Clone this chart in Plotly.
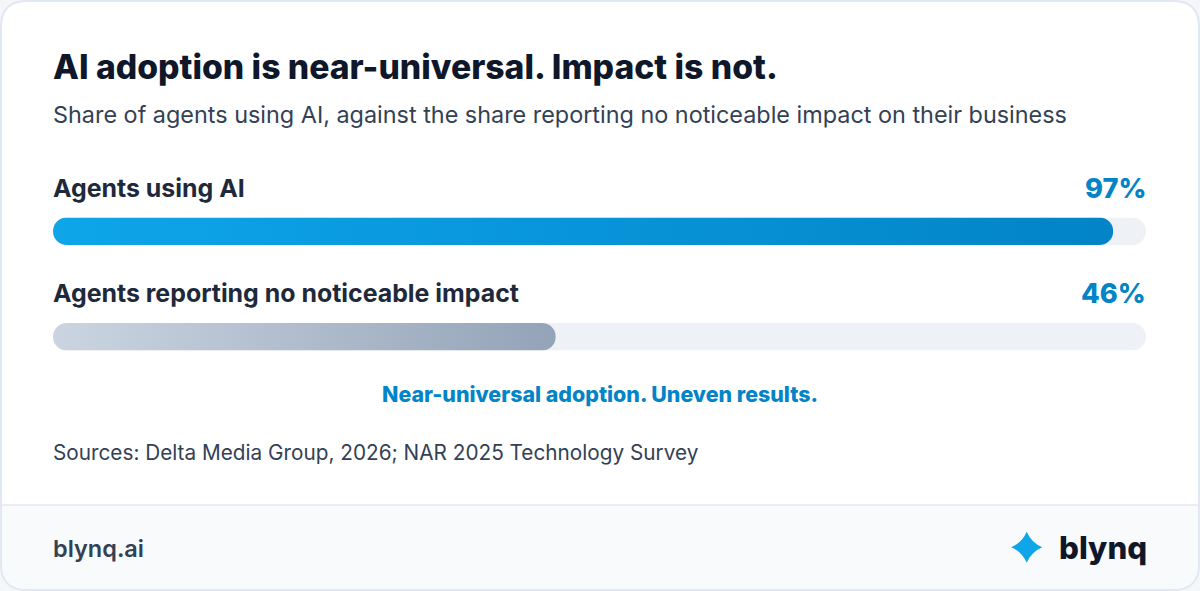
import plotly.graph_objects as go

categories = ["Agents using AI", "Agents reporting no noticeable impact"]
values = [97, 46]
track_values = [100, 100]
title = "AI adoption is near-universal. Impact is not."
subtitle = "Share of agents using AI, against the share reporting no noticeable impact on their business"
callout = "Near-universal adoption. Uneven results."
source = "Sources: Delta Media Group, 2026; NAR 2025 Technology Survey"
footer_left = "blynq.ai"
footer_right = "blynq"

W, H = 1200, 591
FONT = "Inter"


def px(x):
    return x / W


def py(y):
    return 1 - y / H


def text(x, y, s, size, color, weight=400, anchor="left"):
    # annotations carry 2px of padding inside their box
    pad = {"left": -2, "right": 2, "center": 0}[anchor]
    return dict(
        x=px(x + pad), y=py(y), xref="paper", yref="paper", text=s, showarrow=False,
        xanchor=anchor, yanchor="middle",
        font=dict(family=FONT, size=size, color=color, weight=weight),
    )


def card_path(l, t, r, b, rad_top, rad_bot):
    return (
        f"M {px(l + rad_top)} {py(t)} L {px(r - rad_top)} {py(t)} "
        f"Q {px(r)} {py(t)} {px(r)} {py(t + rad_top)} "
        f"L {px(r)} {py(b - rad_bot)} Q {px(r)} {py(b)} {px(r - rad_bot)} {py(b)} "
        f"L {px(l + rad_bot)} {py(b)} Q {px(l)} {py(b)} {px(l)} {py(b - rad_bot)} "
        f"L {px(l)} {py(t + rad_top)} Q {px(l)} {py(t)} {px(l + rad_top)} {py(t)} Z"
    )


def star_path(cx, cy, r, k=0.3):
    c = r * k
    return (
        f"M {px(cx)} {py(cy - r)} Q {px(cx + c)} {py(cy - c)} {px(cx + r)} {py(cy)} "
        f"Q {px(cx + c)} {py(cy + c)} {px(cx)} {py(cy + r)} "
        f"Q {px(cx - c)} {py(cy + c)} {px(cx - r)} {py(cy)} "
        f"Q {px(cx - c)} {py(cy - c)} {px(cx)} {py(cy - r)} Z"
    )


fig = go.Figure()
fig.add_bar(y=categories, x=track_values, orientation="h",
            marker=dict(color="#eef1f6", line_width=0), hoverinfo="skip", showlegend=False)
fig.add_bar(y=categories, x=values, orientation="h", xaxis="x2", yaxis="y2",
            marker=dict(color=["#0ea5e9", "#94a3b8"], line_width=0), showlegend=False)

shapes = [
    dict(type="path", xref="paper", yref="paper", path=card_path(1, 1, 1199, 590, 26, 26),
         fillcolor="#ffffff", line=dict(color="#e2e8f0", width=2), layer="below"),
    dict(type="path", xref="paper", yref="paper",
         path=card_path(2, 505, 1198, 589, 0.01, 25), fillcolor="#f8fafc",
         line=dict(width=0), layer="below"),
    dict(type="line", xref="paper", yref="paper", x0=px(2), x1=px(1198), y0=py(505), y1=py(505),
         line=dict(color="#e2e8f0", width=1.5), layer="below"),
    dict(type="path", xref="paper", yref="paper", path=star_path(1026.7, 547.3, 15.5),
         fillcolor="#0ea5e9", line=dict(width=0)),
]

annotations = [
    text(53, 67, title, 33.7, "#0f172a", 800),
    text(53, 114, subtitle, 23.4, "#334155", 400),
    text(53, 188, categories[0], 24.9, "#1e293b", 700),
    text(1146, 188, f"{values[0]}%", 27.2, "#0284c7", 800, "right"),
    text(53, 293, categories[1], 24.9, "#1e293b", 700),
    text(1146, 293, f"{values[1]}%", 27.2, "#0284c7", 800, "right"),
    text(600, 394, callout, 21.4, "#0284c7", 800, "center"),
    text(53, 452, source, 20.76, "#334155", 400),
    text(53, 548, footer_left, 23.5, "#334155", 600),
    text(1147, 548, footer_right, 31.2, "#0f172a", 800, "right"),
]

axis_x = dict(domain=[53 / W, 1146 / W], range=[0, 100], visible=False, fixedrange=True)
axis_y = dict(domain=[1 - 389.45 / H, 1 - 178.45 / H], range=[1.5, -0.5], visible=False, fixedrange=True)

fig.update_layout(
    width=W, height=H, autosize=False,
    margin=dict(l=0, r=0, t=0, b=0),
    paper_bgcolor="#f4f6fa", plot_bgcolor="rgba(0,0,0,0)",
    barmode="overlay", bargap=0.739,
    showlegend=False,
    shapes=shapes, annotations=annotations,
    xaxis=axis_x, yaxis=axis_y,
    xaxis2=dict(axis_x, anchor="y2"),
    yaxis2=dict(axis_y, anchor="x2"),
)

post = """
document.documentElement.style.margin='0';
document.body.style.margin='0';
document.body.style.overflow='hidden';
var gd=document.querySelector('.plotly-graph-div');
function paint(){
  var svg=gd.querySelector('svg.main-svg');
  var ns='http://www.w3.org/2000/svg';
  var defs=svg.querySelector('defs');
  function grad(id,a,b){
    if(document.getElementById(id))return;
    var g=document.createElementNS(ns,'linearGradient');g.setAttribute('id',id);
    [[0,a],[1,b]].forEach(function(s){var e=document.createElementNS(ns,'stop');
      e.setAttribute('offset',s[0]);e.setAttribute('stop-color',s[1]);g.appendChild(e);});
    defs.appendChild(g);
  }
  grad('gBlue','#0ea5e9','#0284c7');grad('gGrey','#cbd5e1','#94a3b8');
  gd.querySelectorAll('.barlayer .trace').forEach(function(t){
    var pts=t.querySelectorAll('.point path');
    var c0=pts[0].style.fill;
    if(c0.indexOf('14, 165, 233')>=0||c0.indexOf('0ea5e9')>=0){
      pts[0].style.fill='url(#gBlue)';pts[1].style.fill='url(#gGrey)';
    }
    pts.forEach(function(p){p.style.clipPath='inset(0 round 14px)';});
  });
}
paint();
"""

fig.write_html("out.html", post_script=post, config=dict(displayModeBar=False, responsive=False))
